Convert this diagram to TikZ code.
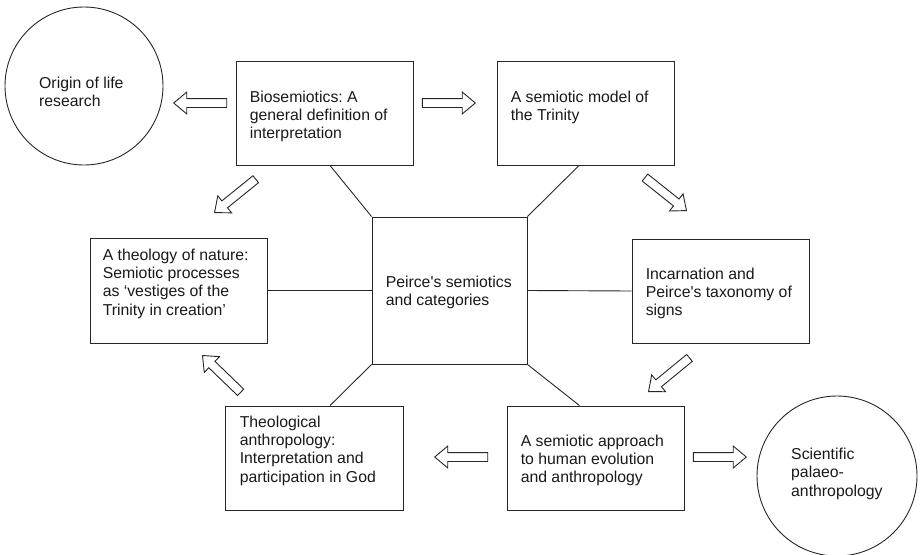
\documentclass[tikz,border=0pt]{standalone}
\usepackage{fontspec}
\setmainfont{Liberation Sans}
\usetikzlibrary{positioning,shapes.arrows}
\frenchspacing

\begin{document}
\begin{tikzpicture}[
    x=1pt, y=-1pt,
    box/.style={rectangle, draw=black!85, line width=0.9pt, minimum width=177pt, minimum height=104pt, inner sep=0pt},
    bubble/.style={circle, draw=black!85, line width=0.9pt, inner sep=0pt},
    txt/.style={inner sep=0pt, align=left, text=black!90, font=\fontsize{15.8pt}{18.3pt}\selectfont},
    blk/.style={single arrow, draw=black!85, line width=0.9pt, fill=white, inner sep=4pt, minimum height=53pt, single arrow head extend=6.5pt, single arrow tip angle=80, anchor=tip},
    link/.style={draw=black!85, line width=0.9pt}
]
    \useasboundingbox (0,0) rectangle (920,554);

    % Centro: semiotica de Peirce
    \node[box, minimum width=155pt, minimum height=147pt] (peirce) at (449.5,290.5) {};
    \node[txt, below right=59pt and 14pt of peirce.north west] (peirceT) {Peirce\textquotesingle s semiotics\\and categories};

    % Linha de cima
    \node[box] (bio) at (324.5,113) {};
    \node[txt, below right=30pt and 14pt of bio.north west] (bioT) {Biosemiotics: A\\general definition of\\interpretation};
    \node[box] (trin) at (585.5,113) {};
    \node[txt, below right=30pt and 14pt of trin.north west] (trinT) {A semiotic model of\\the Trinity};
    \node[bubble, minimum size=158pt] (life) at (84,86) {};
    \node[txt, anchor=north west] (lifeT) at ([shift={(-45,-9)}]life.center) {Origin of life\\research};

    % Linha do meio
    \node[box, minimum height=105pt] (nature) at (178.5,290.5) {};
    \node[txt, below right=11pt and 13pt of nature.north west] (natureT) {A theology of nature:\\Semiotic processes\\as `vestiges of the\\Trinity in creation'};
    \node[box] (incarn) at (720.5,291) {};
    \node[txt, below right=29pt and 14pt of incarn.north west] (incarnT) {Incarnation and\\Peirce\textquotesingle s taxonomy of\\signs};

    % Linha de baixo
    \node[box, minimum width=178pt] (theol) at (314,458) {};
    \node[txt, below right=10pt and 15pt of theol.north west] (theolT) {Theological\\anthropology:\\Interpretation and\\participation in God};
    \node[box] (approach) at (595.5,458) {};
    \node[txt, below right=29pt and 14pt of approach.north west] (approachT) {A semiotic approach\\to human evolution\\and anthropology};
    \node[bubble, minimum size=160pt] (palaeo) at (837,476) {};
    \node[txt, anchor=north west] (palaeoT) at ([shift={(-46,-28)}]palaeo.center) {Scientific\\palaeo-\\anthropology};

    % Ligacoes com o centro
    \draw[link] (bio.-84) -- (peirce.north west);
    \draw[link] (trin.-97) -- (peirce.north east);
    \draw[link] (nature.east) -- (peirce.west);
    \draw[link] (peirce.east) -- (incarn.west);
    \draw[link] (theol.73) -- (peirce.south west);
    \draw[link] (approach.107) -- (peirce.south east);

    % Setas largas
    \node[blk, rotate=180] (toLife) at (173,103) {};
    \node[blk] (toTrin) at (476,103) {};
    \node[blk, rotate=-38.5] (toIncarn) at (687,211) {};
    \node[blk, rotate=219.4] (toApproach) at (648,392) {};
    \node[blk] (toPalaeo) at (747,457) {};
    \node[blk, rotate=180] (toTheol) at (434,457) {};
    \node[blk, rotate=136] (toNature) at (202,355) {};
    \node[blk, rotate=219] (fromBio) at (214,213) {};
\end{tikzpicture}
\end{document}
